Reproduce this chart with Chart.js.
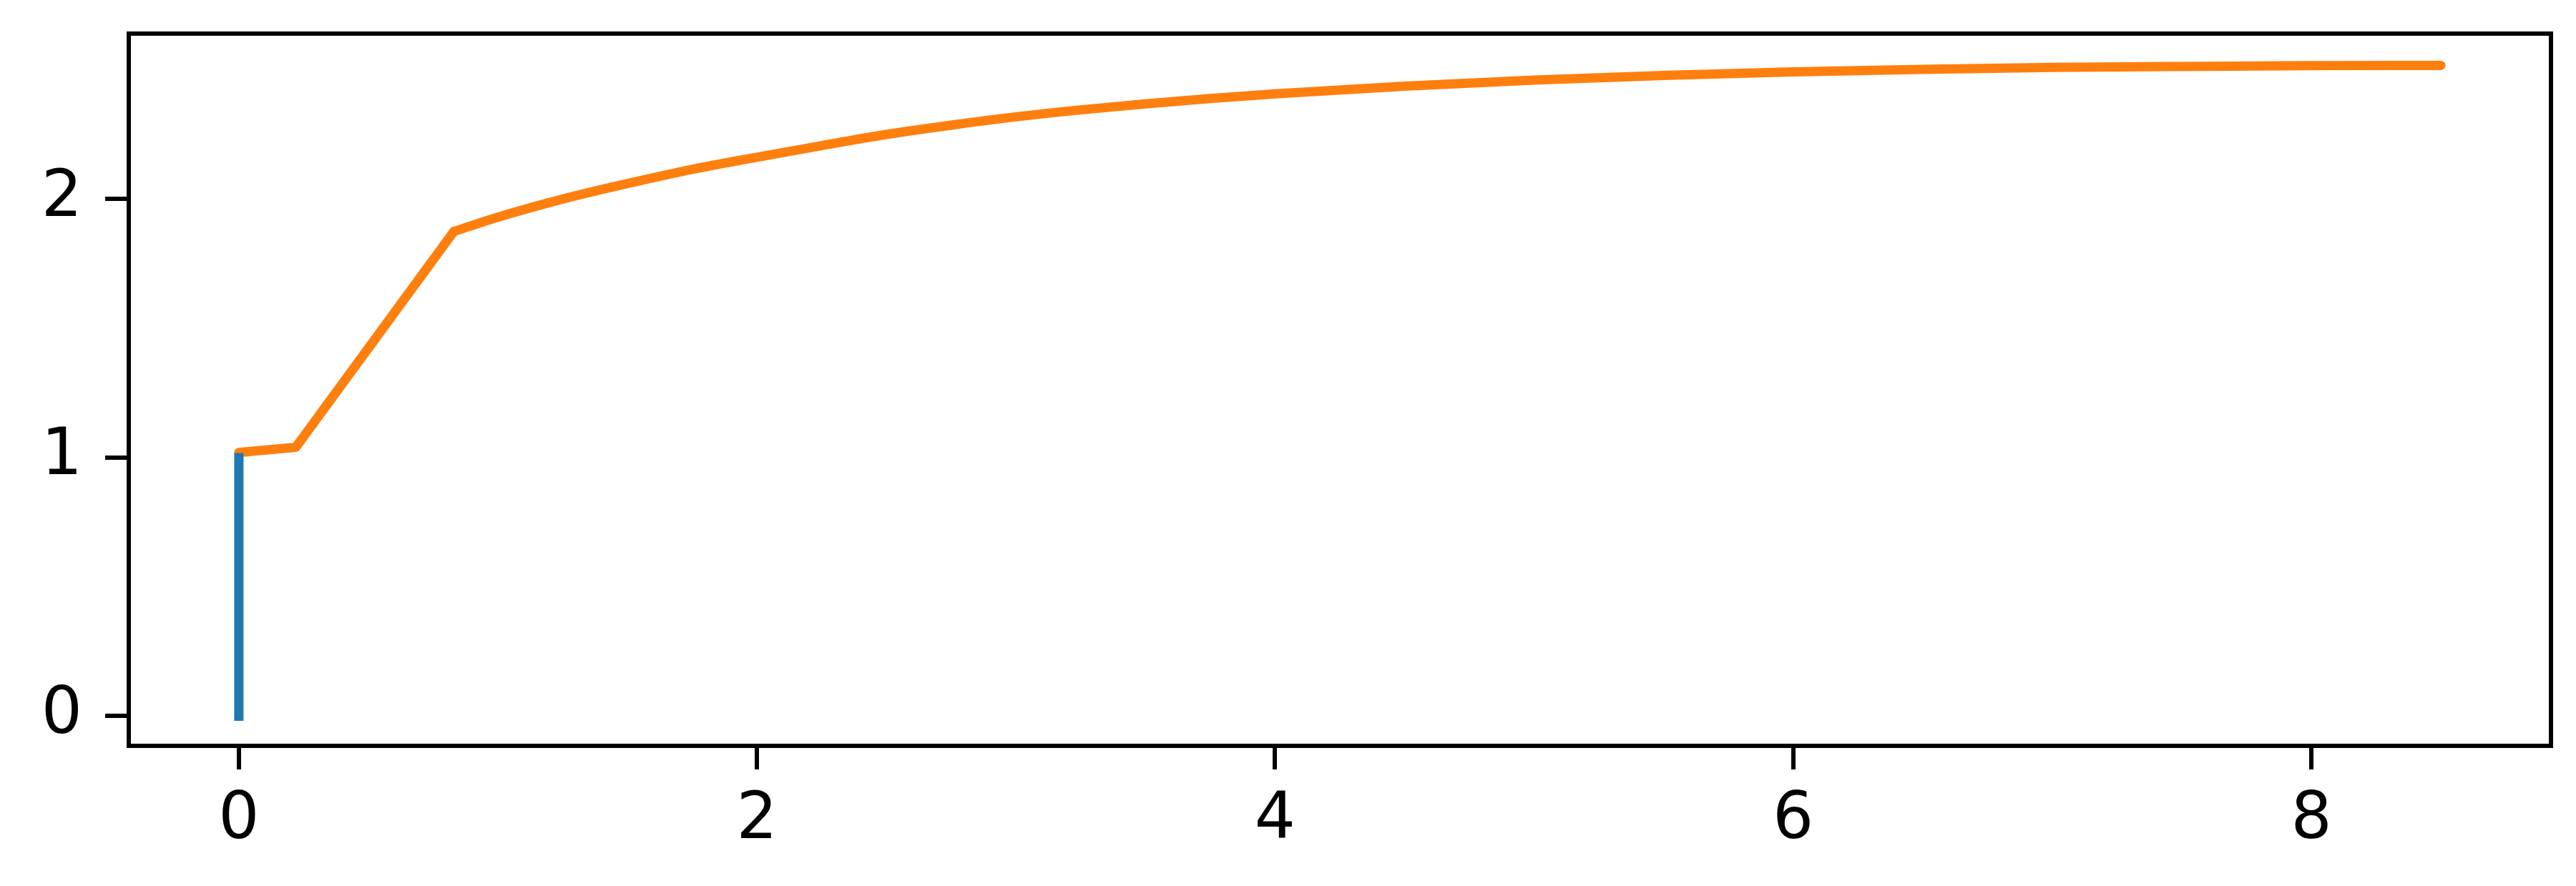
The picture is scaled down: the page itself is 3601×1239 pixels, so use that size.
<!DOCTYPE html>
<html>
<head>
<meta charset="utf-8">
<script src="https://cdn.jsdelivr.net/npm/chart.js@4"></script>
<style>
  html, body { margin: 0; padding: 0; background: #ffffff; }
  canvas { display: block; }
</style>
</head>
<body>
<canvas id="c" width="3601" height="1239"></canvas>
<script>
// ---- data ----
const blueX = [0, 0];
const blueY = [0, 1];

// straight start of the orange curve
const orangeStartX = [0, 0.22, 0.83];
const orangeStartY = [1.02, 1.04, 1.875];
// smooth saturating tail of the orange curve
const orangeTailX = [0.83, 1.0, 1.25, 1.5, 1.75, 2.0, 2.25, 2.5, 2.75, 3.0, 3.25, 3.5, 3.75, 4.0, 4.5, 5.0, 5.5, 6.0, 6.5, 7.0, 7.5, 8.0, 8.5];
const orangeTailY = [1.875, 1.93, 2.0, 2.06, 2.115, 2.162, 2.207, 2.25, 2.286, 2.318, 2.345, 2.368, 2.389, 2.407, 2.437, 2.46, 2.478, 2.492, 2.502, 2.509, 2.513, 2.516, 2.517];

const xTicks = [0, 2, 4, 6, 8];
const yTicks = [0, 1, 2];
const xTickLabels = ['0', '2', '4', '6', '8'];
const yTickLabels = ['0', '1', '2'];

const xRange = [-0.425, 8.925];
const yRange = [-0.115, 2.64];

const toPts = (xs, ys) => xs.map((x, i) => ({ x: x, y: ys[i] }));

const frame = {
  id: 'frame',
  afterDraw(chart) {
    const a = chart.chartArea, ctx = chart.ctx;
    ctx.save();
    ctx.strokeStyle = '#000000';
    ctx.lineWidth = 6;
    ctx.strokeRect(a.left, a.top, a.right - a.left, a.bottom - a.top);
    ctx.restore();
  }
};

const tickFont = { family: 'DejaVu Sans', size: 90 };
const ORANGE = '#ff7f0e';
const lineStyle = { borderWidth: 13, borderJoinStyle: 'round', pointRadius: 0, fill: false };

new Chart(document.getElementById('c'), {
  type: 'line',
  data: {
    datasets: [
      Object.assign({ data: toPts(blueX, blueY), borderColor: '#1f77b4', tension: 0, borderCapStyle: 'square' }, lineStyle),
      Object.assign({ data: toPts(orangeStartX, orangeStartY), borderColor: ORANGE, tension: 0, borderCapStyle: 'round' }, lineStyle),
      Object.assign({ data: toPts(orangeTailX, orangeTailY), borderColor: ORANGE, cubicInterpolationMode: 'monotone', borderCapStyle: 'round' }, lineStyle)
    ]
  },
  options: {
    responsive: false,
    animation: false,
    devicePixelRatio: 1,
    layout: { padding: { left: 0, right: 35, top: 47, bottom: 0 } },
    plugins: { legend: { display: false }, tooltip: { enabled: false } },
    scales: {
      x: {
        type: 'linear',
        min: xRange[0],
        max: xRange[1],
        afterBuildTicks: s => { s.ticks = xTicks.map(v => ({ value: v })); },
        afterFit: s => { s.height = 196; s.paddingLeft = 0; s.paddingRight = 0; },
        ticks: {
          font: tickFont,
          color: '#000000',
          padding: 19,
          maxRotation: 0,
          autoSkip: false,
          callback: (v) => { const i = xTicks.indexOf(v); return i >= 0 ? xTickLabels[i] : ''; }
        },
        grid: { drawOnChartArea: false, drawTicks: true, tickLength: 33, lineWidth: 6, color: '#000000' },
        border: { display: true, width: 6, color: '#000000' }
      },
      y: {
        type: 'linear',
        min: yRange[0],
        max: yRange[1],
        afterBuildTicks: s => { s.ticks = yTicks.map(v => ({ value: v })); },
        afterFit: s => { s.width = 180; s.paddingTop = 0; s.paddingBottom = 0; },
        ticks: {
          font: tickFont,
          color: '#000000',
          padding: 32,
          autoSkip: false,
          callback: (v) => { const i = yTicks.indexOf(v); return i >= 0 ? yTickLabels[i] : ''; }
        },
        grid: { drawOnChartArea: false, drawTicks: true, tickLength: 33, lineWidth: 6, color: '#000000' },
        border: { display: true, width: 6, color: '#000000' }
      }
    }
  },
  plugins: [frame]
});
</script>
</body>
</html>
